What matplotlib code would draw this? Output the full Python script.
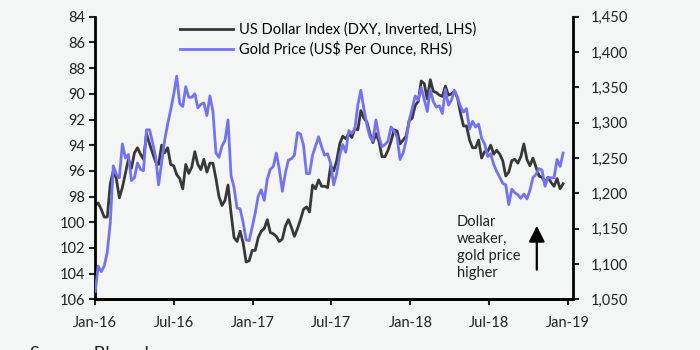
import numpy as np
import pandas as pd
import matplotlib
matplotlib.use('Agg')
import matplotlib.pyplot as plt
import matplotlib.dates as mdates

# weekly (Friday) readings, Jan-2016 .. Dec-2018
dates = pd.date_range('2016-01-01', '2018-12-21', freq='W-FRI')

dxy = [
    # 2016
    98.7, 98.5, 99.0, 99.6, 99.6,
    97.0, 96.0, 96.6, 98.1,
    97.3, 96.2, 95.1, 95.8,
    94.6, 94.2, 94.7, 95.1, 93.1,
    93.9, 94.6, 95.3, 95.5,
    94.0, 94.6, 94.2, 95.5,
    95.6, 96.3, 96.6, 97.4, 95.5,
    96.2, 95.7, 94.5, 95.5,
    95.9, 95.1, 96.1, 95.4, 95.4,
    96.6, 98.0, 98.7, 98.3,
    97.1, 99.3, 101.2, 101.5,
    100.7, 101.6, 103.1, 103.0, 102.2,
    # 2017
    102.2, 101.2, 100.7, 100.5,
    99.8, 100.8, 100.9, 101.1,
    101.5, 101.3, 100.3, 99.8, 100.4,
    101.1, 100.5, 99.8, 99.0,
    98.8, 99.2, 97.1, 97.4,
    96.7, 97.2, 97.2, 97.3, 95.6,
    96.0, 95.2, 93.9, 93.3,
    93.5, 93.1, 93.4, 92.7,
    92.8, 91.3, 91.9, 92.2, 93.1,
    93.8, 93.1, 93.7, 94.9,
    94.9, 94.4, 93.7, 92.8,
    92.9, 93.9, 93.6, 93.3, 92.1,
    # 2018
    91.9, 90.9, 90.6, 89.0,
    89.2, 90.4, 88.9, 89.8,
    89.9, 90.1, 90.2, 89.4, 90.1,
    90.0, 89.8, 90.3, 91.5,
    92.5, 92.5, 93.6, 94.2,
    94.2, 93.6, 95.0, 94.5, 94.5,
    94.0, 94.7, 94.4, 94.7,
    95.2, 96.4, 96.1, 95.2, 95.1,
    95.4, 94.9, 93.9, 95.1,
    95.6, 95.0, 95.7, 96.4,
    96.5, 96.9, 96.5, 96.9, 97.2,
    96.6, 97.4, 97.0,
]

gold = [
    # 2016
    1061, 1097, 1089, 1097, 1117,
    1158, 1239, 1227, 1222,
    1270, 1250, 1255, 1218,
    1222, 1243, 1234, 1232, 1290,
    1290, 1272, 1252, 1212,
    1243, 1275, 1298, 1318,
    1340, 1366, 1327, 1323, 1351,
    1336, 1336, 1341, 1321,
    1326, 1328, 1310, 1338, 1316,
    1257, 1251, 1267, 1275,
    1304, 1225, 1208, 1179,
    1178, 1159, 1134, 1133, 1152,
    # 2017
    1172, 1196, 1205, 1190,
    1220, 1234, 1238, 1257,
    1234, 1203, 1229, 1247, 1249,
    1254, 1286, 1284, 1268,
    1228, 1228, 1254, 1267,
    1280, 1266, 1254, 1256, 1242,
    1212, 1228, 1254, 1269,
    1258, 1289, 1285, 1291,
    1325, 1346, 1320, 1297, 1280,
    1274, 1304, 1280, 1266,
    1269, 1274, 1294, 1288,
    1280, 1248, 1257, 1275, 1303,
    # 2018
    1320, 1338, 1332, 1350,
    1333, 1316, 1347, 1330,
    1322, 1324, 1313, 1347, 1325,
    1332, 1346, 1336, 1323,
    1315, 1320, 1291, 1302,
    1294, 1298, 1278, 1270, 1252,
    1256, 1241, 1231, 1223,
    1214, 1212, 1184, 1206, 1201,
    1198, 1193, 1199, 1192,
    1204, 1222, 1227, 1235,
    1233, 1210, 1222, 1222, 1222,
    1248, 1238, 1257,
]

left_ticks = np.arange(84, 107, 2)
right_ticks = np.arange(1050, 1451, 50)
xtick_dates = pd.date_range('2016-01-01', '2019-01-01', freq='6MS')

bg = '#f4f5f5'
plt.rcParams['font.family'] = ['Lato', 'DejaVu Sans']

fig = plt.figure(figsize=(7, 3.5), dpi=100, facecolor=bg)
ax = fig.add_axes([0.136, 0.145, 0.682, 0.807])
ax.set_facecolor(bg)
ax2 = ax.twinx()

l1, = ax.plot(dates, dxy, color='#383838', lw=2.0)
l2, = ax2.plot(dates, gold, color='#7373f2', lw=2.0)

ax.set_ylim(106, 84)
ax.set_yticks(left_ticks)
ax2.set_ylim(1050, 1450)
ax2.set_yticks(right_ticks)
ax2.set_yticklabels(['{:,}'.format(v) for v in right_ticks])

ax.set_xlim(pd.Timestamp('2016-01-01'), pd.Timestamp('2019-01-12'))
ax.set_xticks(xtick_dates)
ax.xaxis.set_major_formatter(mdates.DateFormatter('%b-%y'))

for a in (ax, ax2):
    a.spines['top'].set_visible(False)
    for s in ('left', 'right', 'bottom'):
        a.spines[s].set_linewidth(2)
        a.spines[s].set_color('black')
    a.tick_params(direction='out', length=4, width=1.5, labelsize=10.5,
                  colors='#222222')
ax.spines['right'].set_visible(False)
ax2.spines['left'].set_visible(False)
ax.tick_params(axis='x', pad=8)
ax2.tick_params(axis='y', pad=9)

ax2.legend([l1, l2], ['US Dollar Index (DXY, Inverted, LHS)',
                      'Gold Price (US$ Per Ounce, RHS)'],
           loc='upper left', bbox_to_anchor=(0.16, 1.01), frameon=False,
           fontsize=10.5, handlelength=3.6, labelspacing=0.3,
           handletextpad=0.45, borderaxespad=0.2)

ax2.text(0.758, 0.30, 'Dollar\nweaker,\ngold price\nhigher',
         transform=ax.transAxes, fontsize=10.5, va='top', ha='left',
         linespacing=1.3, color='#222222')
ax2.annotate('', xy=(0.925, 0.27), xytext=(0.925, 0.095),
             xycoords='axes fraction', textcoords='axes fraction',
             arrowprops=dict(arrowstyle='-|>', color='black', lw=1.6,
                             mutation_scale=24))

fig.text(0.043, 0.012, 'Source: Bloomberg', fontsize=13, va='top',
         color='#222222')

fig.savefig('out.png', dpi=100, facecolor=bg)
